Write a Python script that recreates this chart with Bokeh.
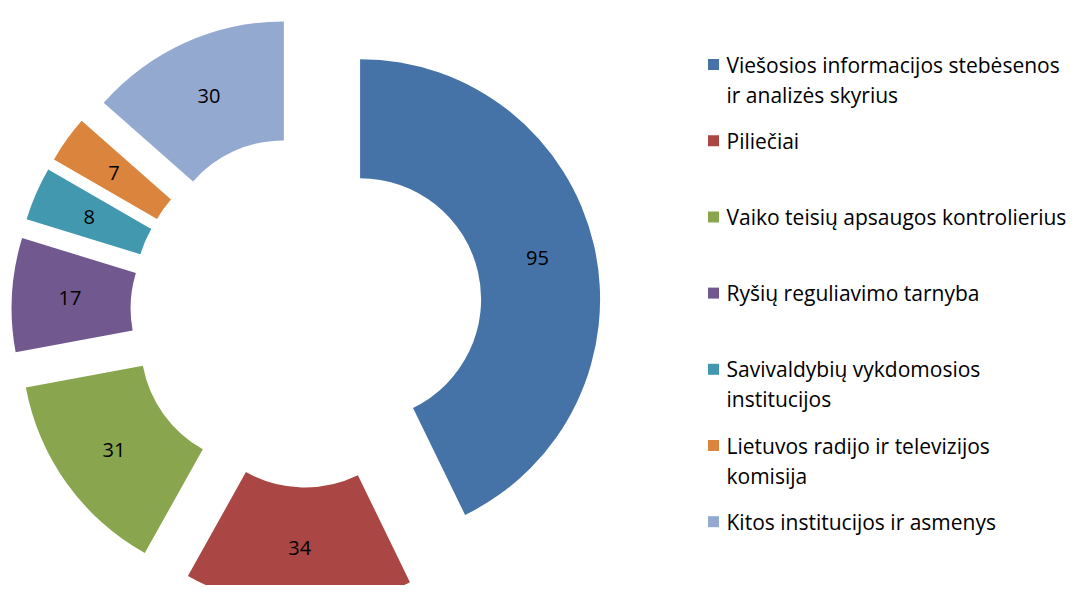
import math
from bokeh.plotting import figure
from bokeh.models import ColumnDataSource, Range1d
from bokeh.core.properties import value
from bokeh.embed import file_html
from bokeh.resources import INLINE

categories = [
    "Viešosios informacijos stebėsenos\nir analizės skyrius",
    "Piliečiai",
    "Vaiko teisių apsaugos kontrolierius",
    "Ryšių reguliavimo tarnyba",
    "Savivaldybių vykdomosios\ninstitucijos",
    "Lietuvos radijo ir televizijos\nkomisija",
    "Kitos institucijos ir asmenys",
]
values = [95, 34, 31, 17, 8, 7, 30]
colors = ["#4572A7", "#AA4643", "#89A54E", "#71588F", "#4198AF", "#DB843D", "#93A9CF"]

FONT = "Open Sans"
W, H = 1069, 585
TOP = 601                  # data y of the picture's top edge (y up)
CX, CY = 306, TOP - 311    # donut centre
R_IN, R_OUT = 121, 240
EXPLODE = 55
LABEL_R = 182

total = float(sum(values))
xs, ys, starts, ends, lx, ly = [], [], [], [], [], []
cum = 0.0
for v in values:
    t1 = 360.0 * cum / total
    cum += v
    t2 = 360.0 * cum / total
    tm = math.radians((t1 + t2) / 2.0)
    ox = CX + EXPLODE * math.sin(tm)
    oy = CY + EXPLODE * math.cos(tm)
    xs.append(ox)
    ys.append(oy)
    starts.append(math.radians(90.0 - t2))
    ends.append(math.radians(90.0 - t1))
    lx.append(ox + LABEL_R * math.sin(tm))
    ly.append(oy + LABEL_R * math.cos(tm))

src = ColumnDataSource(dict(x=xs, y=ys, start=starts, end=ends, color=colors,
                            lx=lx, ly=ly, txt=[str(v) for v in values]))

p = figure(width=W, height=H, output_backend="svg", toolbar_location=None,
           x_range=Range1d(0, W), y_range=Range1d(TOP - H, TOP),
           x_axis_location=None, y_axis_location=None, min_border=0,
           background_fill_color="white", border_fill_color="white")
p.grid.visible = False
p.outline_line_color = None

p.annular_wedge(x="x", y="y", inner_radius=R_IN, outer_radius=R_OUT,
                start_angle="start", end_angle="end", fill_color="color",
                line_color=None, source=src)
p.text(x="lx", y="ly", text="txt", source=src, text_align="center",
       text_baseline="middle", text_font=value(FONT), text_font_size="20px",
       text_color="black")

# legend
LEG_X, LEG_Y0, LEG_STEP, LINE_STEP = 713, TOP - 64, 76.2, 30
sq_x, sq_y, sq_c, tx, ty, tt = [], [], [], [], [], []
for i, (cat, col) in enumerate(zip(categories, colors)):
    y0 = LEG_Y0 - i * LEG_STEP
    sq_x.append(LEG_X)
    sq_y.append(y0)
    sq_c.append(col)
    for j, line in enumerate(cat.split("\n")):
        tx.append(LEG_X + 13)
        ty.append(y0 - j * LINE_STEP)
        tt.append(line)

p.scatter(x=sq_x, y=sq_y, marker="square", size=11, fill_color=sq_c, line_color=None)
p.text(x=tx, y=ty, text=tt, text_align="left", text_baseline="middle",
       text_font=value(FONT), text_font_size="21px", text_color="black")

open("out.html", "w").write(file_html(p, INLINE))
